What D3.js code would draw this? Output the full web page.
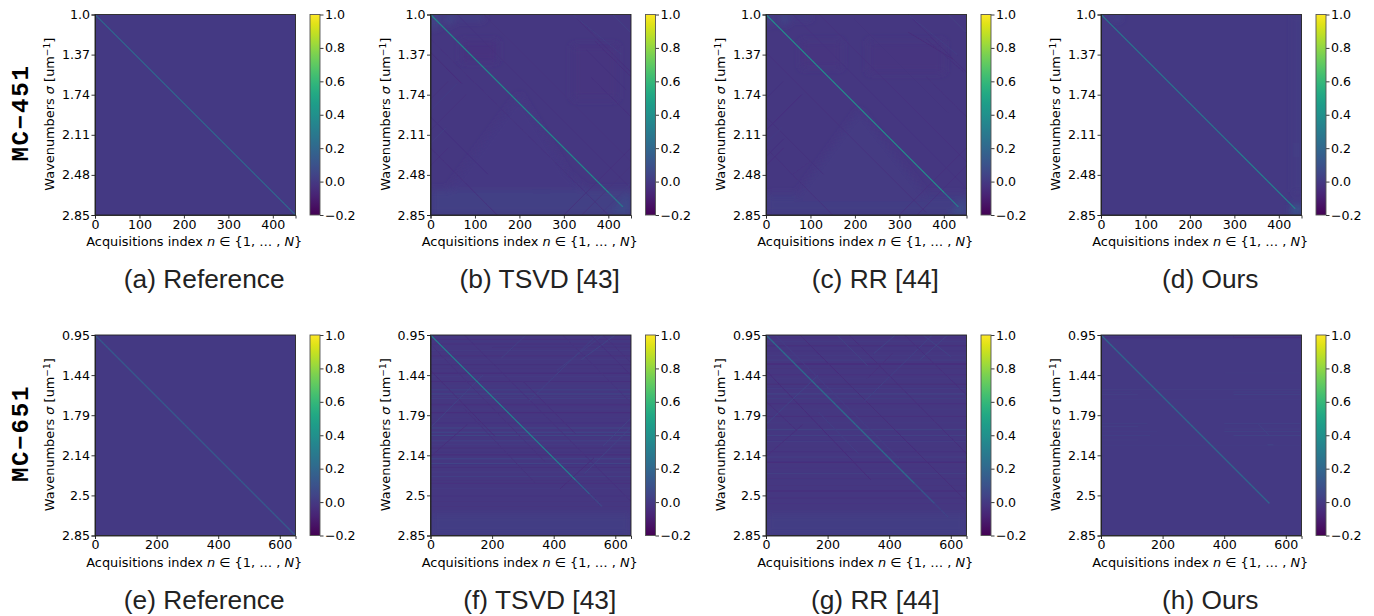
<!DOCTYPE html>
<html>
<head>
  <meta charset="utf-8">
  <title>Covariance matrices</title>
  <script src="https://d3js.org/d3.v7.min.js"></script>
  <style>
    html, body { margin: 0; padding: 0; background: #fff; }
    svg { display: block; }
    text { font-family: "DejaVu Sans", sans-serif; fill: #000; }
    .tick text { font-size: 12.6px; }
    .tick line, .domain { stroke: #222; stroke-width: 0.9; }
    .axis-label { font-size: 12.9px; }
    .caption { font-family: "Liberation Sans", sans-serif; font-size: 26.3px; fill: #222; }
    .row-label { font-family: "Liberation Mono", monospace; font-weight: bold; font-size: 24px; letter-spacing: 1.8px; }
  </style>
</head>
<body>
  <svg></svg>
  <script>
    // values
    var captions = ["(a) Reference", "(b) TSVD [43]", "(c) RR [44]", "(d) Ours",
                    "(e) Reference", "(f) TSVD [43]", "(g) RR [44]", "(h) Ours"];
    var rowNames = ["MC\u2212451", "MC\u2212651"];
    var sizes = [451, 651];
    var xTicks = [[0, 100, 200, 300, 400], [0, 200, 400, 600]];
    var yLabels = [["1.0", "1.37", "1.74", "2.11", "2.48", "2.85"],
                   ["0.95", "1.44", "1.79", "2.14", "2.5", "2.85"]];
    var colorTicks = [-0.2, 0, 0.2, 0.4, 0.6, 0.8, 1.0];

    // background value of each matrix
    var baseValues = [0, -0.012, -0.012, 0, 0, -0.012, -0.012, 0];

    // main diagonal: [from n, to n, value]
    var diagonals = [
      [[0, 451, 0.2]],
      [[0, 400, 0.4], [400, 432, 0.3]],
      [[0, 400, 0.4], [400, 432, 0.3]],
      [[0, 300, 0.28], [300, 436, 0.34]],
      [[0, 651, 0.14]],
      [[0, 470, 0.3], [470, 515, 0.16], [515, 555, 0.05]],
      [[0, 480, 0.22], [480, 545, 0.12], [545, 590, 0.04]],
      [[0, 545, 0.2]]
    ];

    // soft areas, blurred: [value, n, row, n, row, ...] around the outline
    var tsvdAreas = [
      [0.024, 0, 451, 451, 451, 451, 395, 0, 395],
      [0.008, 80, 395, 230, 290, 350, 395],
      [0.022, 230, 345, 270, 345, 270, 400, 230, 400],
      [0.0, 40, 395, 200, 180, 330, 395],
      [0.07, 400, 451, 451, 451, 451, 400],
      [0.05, 0, 0, 18, 0, 18, 30, 0, 30],
      [0.05, 32, 0, 50, 0, 50, 22, 32, 22],
      [0.03, 50, 0, 120, 0, 120, 12, 50, 12],
      [-0.022, 70, 60, 150, 60, 150, 105, 70, 105],
      [-0.018, 320, 70, 420, 70, 420, 190, 320, 190]
    ];
    var rrAreas = [
      [0.012, 0, 451, 451, 451, 451, 405, 0, 405],
      [0.004, 60, 420, 210, 215, 370, 420],
      [0.08, 410, 451, 451, 451, 451, 410],
      [0.05, 0, 0, 14, 0, 14, 22, 0, 22],
      [0.05, 32, 0, 50, 0, 50, 22, 32, 22],
      [0.02, 50, 0, 100, 0, 100, 10, 50, 10],
      [-0.02, 80, 60, 170, 60, 170, 120, 80, 120],
      [-0.018, 230, 60, 400, 60, 400, 130, 230, 130]
    ];
    var areas = [
      [],
      tsvdAreas,
      rrAreas,
      [[0.06, 30, 0, 44, 0, 44, 12, 30, 12], [0.015, 434, 0, 451, 0, 451, 400, 434, 400],
       [0.12, 428, 428, 451, 428, 451, 451, 428, 451], [0.03, 434, 290, 446, 290, 446, 320, 434, 320]],
      [],
      [[0.012, 0, 651, 651, 651, 651, 578, 0, 578]],
      [[0.012, 0, 651, 651, 651, 651, 578, 0, 578]],
      []
    ];

    // horizontal stripes: [row0, row1, value, n0, n1]
    var tsvd651Bands = [
      [12, 15, -0.035, 0, 651], [18, 21, 0.012, 0, 651], [28, 31, -0.04, 0, 651], [38, 41, -0.035, 200, 651],
      [50, 52, 0.02, 0, 651], [66, 69, -0.05, 0, 651], [78, 80, 0.015, 0, 651], [95, 98, -0.045, 0, 651],
      [108, 110, -0.03, 0, 651], [122, 126, -0.05, 0, 651], [134, 136, 0.012, 0, 651], [150, 153, -0.045, 0, 651],
      [165, 167, 0.03, 0, 651], [176, 180, 0.04, 0, 651], [190, 193, 0.08, 0, 651], [198, 200, 0.015, 0, 651],
      [205, 207, 0.05, 0, 651], [224, 228, -0.04, 0, 651], [240, 242, 0.012, 0, 651], [250, 254, -0.05, 0, 651],
      [268, 270, 0.012, 0, 651], [284, 286, -0.03, 0, 651], [300, 304, 0.05, 0, 651], [314, 318, 0.06, 0, 651],
      [326, 328, 0.13, 0, 651], [342, 345, 0.05, 0, 651], [354, 356, 0.015, 0, 651], [366, 369, -0.045, 0, 651],
      [378, 380, -0.03, 0, 651], [388, 391, -0.065, 0, 651], [400, 404, 0.05, 0, 651], [416, 419, 0.06, 0, 651],
      [428, 431, -0.05, 0, 651], [444, 446, 0.03, 0, 651], [458, 461, 0.04, 0, 651], [470, 472, -0.03, 0, 651],
      [480, 483, -0.04, 0, 651], [497, 499, 0.02, 0, 651], [520, 523, -0.03, 0, 651], [540, 542, -0.025, 0, 651],
      [556, 558, -0.02, 0, 651]
    ];
    var rr651Bands = [
      [8, 11, -0.03, 0, 651], [20, 22, 0.012, 0, 651], [32, 36, -0.045, 0, 651], [50, 53, -0.03, 0, 651],
      [66, 68, 0.012, 0, 651], [80, 83, 0.03, 0, 651], [92, 96, -0.06, 0, 651], [108, 110, -0.04, 0, 651],
      [128, 131, -0.04, 0, 651], [142, 144, 0.012, 0, 651], [158, 162, -0.05, 0, 651], [172, 175, 0.03, 0, 651],
      [190, 193, 0.07, 0, 651], [205, 208, 0.03, 0, 651], [222, 226, -0.04, 0, 651], [240, 242, 0.012, 0, 651],
      [262, 266, -0.04, 0, 651], [284, 286, 0.015, 0, 651], [305, 309, 0.04, 0, 651], [326, 328, 0.08, 0, 651],
      [344, 347, 0.03, 0, 651], [362, 364, -0.02, 0, 651], [378, 381, -0.04, 0, 651], [395, 398, 0.03, 0, 651],
      [412, 416, -0.055, 0, 651], [430, 432, -0.02, 0, 651], [448, 451, 0.03, 0, 651], [465, 468, -0.03, 0, 651],
      [488, 490, -0.02, 0, 651], [505, 508, -0.05, 0, 651], [528, 530, -0.04, 0, 651], [548, 550, -0.025, 0, 651]
    ];
    var bands = [
      [],
      [],
      [],
      [],
      [],
      tsvd651Bands,
      rr651Bands,
      [[6, 10, -0.035, 0, 430], [6, 10, -0.06, 430, 651], [122, 124, 0.012, 400, 651], [175, 177, 0.03, 0, 651], [184, 186, 0.04, 430, 651],
       [184, 186, 0.025, 0, 100], [192, 194, 0.05, 430, 651], [192, 194, 0.03, 0, 120], [208, 210, 0.025, 0, 651], [286, 289, 0.035, 400, 651],
       [286, 289, 0.02, 0, 150], [296, 298, 0.035, 0, 120], [304, 306, 0.035, 400, 651], [312, 314, 0.05, 400, 651], [312, 314, 0.025, 0, 180],
       [325, 327, 0.08, 430, 651], [325, 327, 0.04, 0, 160], [340, 342, 0.02, 0, 120], [358, 360, 0.02, 0, 651], [355, 358, 0.06, 540, 560]]
    ];

    // faint streaks along or across the diagonal: [n0, row0, n1, row1, value]
    var tsvdStreaks = [
      [0, 85, 70, 155, -0.05], [0, 230, 130, 360, -0.035], [430, 90, 320, 0, 0.02], [451, 130, 330, 10, -0.04],
      [300, 451, 451, 300, -0.035], [40, 300, 0, 340, -0.035], [120, 0, 451, 331, -0.025], [0, 300, 150, 451, -0.035],
      [451, 230, 360, 140, -0.035], [410, 0, 450, 40, 0.03], [0, 190, 40, 150, -0.03], [0, 215, 60, 155, 0.01],
      [0, 260, 80, 180, -0.03], [0, 290, 35, 255, 0.012], [60, 0, 451, 391, -0.022], [340, 451, 451, 340, -0.03],
      [380, 451, 451, 380, 0.02], [350, 80, 440, 170, -0.03], [370, 60, 451, 140, -0.04], [0, 55, 400, 451, -0.022]
    ];
    var rrStreaks = [
      [0, 85, 360, 445, -0.035], [0, 230, 130, 360, -0.03], [430, 90, 320, 0, 0.012], [451, 130, 330, 10, -0.035],
      [300, 451, 451, 300, -0.03], [40, 300, 0, 340, -0.035], [120, 0, 451, 331, -0.025], [0, 300, 150, 451, -0.03],
      [451, 230, 360, 140, -0.03], [410, 0, 450, 40, 0.02], [0, 190, 40, 150, -0.03], [0, 260, 80, 180, -0.035],
      [0, 290, 35, 255, 0.012], [0, 320, 40, 280, -0.035], [60, 0, 451, 391, -0.02], [340, 451, 451, 340, -0.03],
      [320, 40, 420, 100, -0.05], [360, 55, 445, 130, -0.035], [60, 360, 100, 330, -0.02], [200, 10, 410, 220, -0.018]
    ];
    var streaks = [
      [],
      tsvdStreaks,
      rrStreaks,
      [],
      [],
      [[0, 115, 210, 330, -0.05], [110, 0, 651, 540, -0.035], [0, 300, 170, 130, 0.04], [230, 75, 310, 0, 0.03],
       [0, 395, 120, 290, -0.045], [320, 215, 540, 0, 0.035], [410, 115, 560, 0, 0.03], [490, 80, 600, 0, 0.05],
       [500, 450, 651, 300, 0.04], [560, 360, 651, 270, 0.04], [300, 150, 470, 320, -0.04], [420, 500, 530, 400, -0.05],
       [0, 30, 370, 410, -0.03], [110, 240, 340, 480, -0.03], [560, 0, 651, 90, -0.03], [520, 0, 651, 130, -0.035],
       [430, 0, 651, 220, -0.025]],
      [[0, 115, 340, 470, -0.055], [110, 0, 651, 540, -0.05], [0, 290, 170, 130, 0.045], [350, 60, 420, 0, 0.045],
       [0, 395, 120, 290, -0.04], [320, 215, 540, 0, 0.035], [500, 80, 590, 0, 0.04], [230, 0, 330, 100, 0.04],
       [270, 0, 651, 385, -0.045], [450, 0, 651, 195, -0.04], [410, 60, 330, 140, -0.04], [510, 0, 600, 70, 0.04],
       [30, 0, 430, 400, 0.02], [170, 250, 300, 385, 0.025], [0, 215, 100, 310, -0.04]],
      [[510, 288, 545, 325, 0.04]]
    ];

    var panelLefts = [95, 430.5, 766, 1101],
        panelTops = [14.5, 335],
        panelSize = 200.5,
        barGap = 14.5,
        barWidth = 10;

    var svg = d3.select("svg").attr("width", 1374).attr("height", 616);

    var color = d3.scaleSequential(d3.interpolateViridis).domain([-0.2, 1.0]);

    var defs = svg.append("defs");
    var grad = defs.append("linearGradient").attr("id", "viridis")
        .attr("x1", 0).attr("x2", 0).attr("y1", 1).attr("y2", 0);
    d3.range(0, 1.001, 0.05).forEach(function(t) {
      grad.append("stop").attr("offset", t).attr("stop-color", d3.interpolateViridis(t));
    });
    defs.append("filter").attr("id", "soft")
        .attr("x", "-10%").attr("y", "-10%").attr("width", "120%").attr("height", "120%")
      .append("feGaussianBlur").attr("stdDeviation", 3.5);
    defs.append("filter").attr("id", "fine")
        .attr("x", "-5%").attr("y", "-5%").attr("width", "110%").attr("height", "110%")
      .append("feGaussianBlur").attr("stdDeviation", 0.35);

    captions.forEach(function(caption, i) {
      var row = Math.floor(i / 4), col = i % 4, N = sizes[row];

      var g = svg.append("g")
          .attr("transform", "translate(" + panelLefts[col] + "," + panelTops[row] + ")");

      var x = d3.scaleLinear().domain([0, N]).range([0, panelSize]);
      var y = d3.scaleLinear().domain([0, N]).range([0, panelSize]);

      var clipId = "clip" + i;
      defs.append("clipPath").attr("id", clipId).append("rect")
          .attr("width", panelSize).attr("height", panelSize);

      var plot = g.append("g").attr("clip-path", "url(#" + clipId + ")");

      plot.append("rect").attr("width", panelSize).attr("height", panelSize)
          .attr("fill", color(baseValues[i]));

      // soft areas
      plot.append("g").attr("filter", "url(#soft)")
        .selectAll("path").data(areas[i]).enter().append("path")
          .attr("d", function(d) {
            var pts = d3.range(1, d.length, 2).map(function(k) { return [x(d[k]), y(d[k + 1])]; });
            return d3.line()(pts) + "Z";
          })
          .attr("fill", function(d) { return color(d[0]); });

      var fine = plot.append("g").attr("filter", "url(#fine)");

      // stripes
      fine.selectAll(".band").data(bands[i]).enter().append("rect")
          .attr("x", function(d) { return x(d[3]); })
          .attr("width", function(d) { return x(d[4]) - x(d[3]); })
          .attr("y", function(d) { return y(d[0]); })
          .attr("height", function(d) { return y(d[1]) - y(d[0]); })
          .attr("fill", function(d) { return color(d[2]); })
          .attr("opacity", 0.8);

      // streaks
      fine.selectAll(".streak").data(streaks[i]).enter().append("line")
          .attr("x1", function(d) { return x(d[0]); })
          .attr("y1", function(d) { return y(d[1]); })
          .attr("x2", function(d) { return x(d[2]); })
          .attr("y2", function(d) { return y(d[3]); })
          .attr("stroke", function(d) { return color(d[4]); })
          .attr("stroke-width", 0.9);

      // main diagonal, one cell per index like the matrix itself
      diagonals[i].forEach(function(seg) {
        fine.selectAll(".diag" + seg[0]).data(d3.range(seg[0], seg[1])).enter().append("rect")
            .attr("x", function(n) { return x(n); })
            .attr("y", function(n) { return y(n); })
            .attr("width", 1)
            .attr("height", 1)
            .attr("fill", color(seg[2]));
      });

      // axes
      g.append("g")
          .attr("transform", "translate(0," + panelSize + ")")
          .call(d3.axisBottom(x).tickValues(xTicks[row]).tickSizeOuter(0).tickSize(3.5).tickPadding(1.5));

      var labels = yLabels[row];
      g.append("g")
          .call(d3.axisLeft(y)
              .tickValues(labels.map(function(d, k) { return N * k / 5; }))
              .tickFormat(function(d, k) { return labels[k]; })
              .tickSizeOuter(0).tickSize(3.5).tickPadding(1.5));

      // frame
      g.append("rect").attr("width", panelSize).attr("height", panelSize)
          .attr("fill", "none").attr("stroke", "#222").attr("stroke-width", 0.9);

      // colorbar
      var cb = g.append("g").attr("transform", "translate(" + (panelSize + barGap) + ",0)");
      var cy = d3.scaleLinear().domain([-0.2, 1.0]).range([panelSize, 0]);
      cb.append("rect").attr("width", barWidth).attr("height", panelSize)
          .attr("fill", "url(#viridis)");
      cb.append("g")
          .attr("transform", "translate(" + barWidth + ",0)")
          .call(d3.axisRight(cy).tickValues(colorTicks)
              .tickFormat(function(d) { return d3.format(".1f")(d); })
              .tickSizeOuter(0).tickSize(3.5).tickPadding(1.5))
          .select(".domain").remove();
      cb.append("rect").attr("width", barWidth).attr("height", panelSize)
          .attr("fill", "none").attr("stroke", "#555").attr("stroke-width", 0.9);

      // x axis label
      var xl = g.append("text").attr("class", "axis-label")
          .attr("x", panelSize / 2 - 1).attr("y", panelSize + 31)
          .attr("text-anchor", "middle");
      xl.append("tspan").text("Acquisitions index ");
      xl.append("tspan").attr("font-style", "italic").text("n");
      xl.append("tspan").text(" \u2208 {1, \u2026 , ");
      xl.append("tspan").attr("font-style", "italic").text("N");
      xl.append("tspan").text("}");

      // y axis label
      var yl = g.append("text").attr("class", "axis-label")
          .attr("transform", "translate(-41," + (panelSize / 2 - 0.5) + ") rotate(-90)")
          .attr("text-anchor", "middle");
      yl.append("tspan").text("Wavenumbers ");
      yl.append("tspan").attr("font-style", "italic").text("\u03c3");
      yl.append("tspan").text(" [um");
      yl.append("tspan").attr("dy", -4).attr("font-size", 9).text("\u22121");
      yl.append("tspan").attr("dy", 4).text("]");

      // caption
      g.append("text").attr("class", "caption")
          .attr("x", panelSize / 2 + 9).attr("y", panelSize + 73)
          .attr("text-anchor", "middle")
          .text(caption);
    });

    // row names
    rowNames.forEach(function(name, row) {
      svg.append("text").attr("class", "row-label")
          .attr("transform", "translate(28," + (113 + row * 320.5) + ") rotate(-90)")
          .attr("text-anchor", "middle")
          .text(name);
    });
  </script>
</body>
</html>
